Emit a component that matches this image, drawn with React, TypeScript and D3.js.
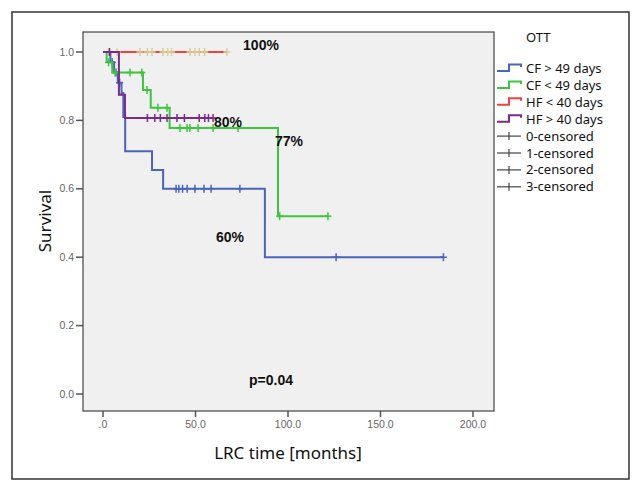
import React from "react";
import * as d3 from "d3";

// ---- data ----
const xTicks = [0, 50, 100, 150, 200];
const xTickLabels = [".0", "50.0", "100.0", "150.0", "200.0"];
const yTicks = [0, 0.2, 0.4, 0.6, 0.8, 1.0];
const yTickLabels = ["0.0", "0.2", "0.4", "0.6", "0.8", "1.0"];

// CF > 49 days (blue)
const blueTimes = [0, 4, 6, 8, 10, 11, 12, 26.5, 32.5, 87.5];
const blueSurv = [1.0, 0.97, 0.94, 0.91, 0.88, 0.81, 0.71, 0.655, 0.6, 0.4];
const blueEnd = 184;
const blueCensor = [5, 7, 9, 39.5, 41, 43, 45.5, 49.7, 54.6, 58.4, 74, 126, 184];

// CF < 49 days (green)
const greenTimes = [0, 2, 5, 21.6, 25.8, 36, 94.6];
const greenSurv = [1.0, 0.97, 0.94, 0.889, 0.837, 0.778, 0.52];
const greenEnd = 121.6;
const greenCensor = [3, 6.5, 14.6, 21, 23.8, 29.7, 34.6, 41.6, 45.4, 47, 51.4, 59.5, 73, 95.5, 121.6];

// HF < 40 days (red)
const redTimes = [0];
const redSurv = [1.0];
const redEnd = 67;
const redCensor = [3, 7.6, 20, 24, 26.5, 32.4, 35, 37, 47, 49.7, 52, 55, 67];

// HF > 40 days (purple)
const purpleTimes = [0, 8.6, 11.9];
const purpleSurv = [1.0, 0.875, 0.807];
const purpleEnd = 59.5;
const purpleCensor = [3.5, 24, 28, 31, 34.6, 40, 44, 52, 55, 57, 59.5];

const legendTitle = "OTT";
const legendLabels = ["CF > 49 days", "CF < 49 days", "HF < 40 days", "HF > 40 days"];
const censorLabels = ["0-censored", "1-censored", "2-censored", "3-censored"];

const annotations = [
  { text: "100%", t: 85.4, s: 1.02 },
  { text: "80%", t: 67.6, s: 0.795 },
  { text: "77%", t: 100.5, s: 0.74 },
  { text: "60%", t: 68.6, s: 0.459 },
  { text: "p=0.04", t: 90.8, s: 0.041 },
];

const series = [
  { times: blueTimes, surv: blueSurv, end: blueEnd, censor: blueCensor, color: "#4a63bd", censorColor: "#4a63bd" },
  { times: greenTimes, surv: greenSurv, end: greenEnd, censor: greenCensor, color: "#3cc63c", censorColor: "#3cc63c" },
  { times: redTimes, surv: redSurv, end: redEnd, censor: redCensor, color: "#f2403f", censorColor: "#d8cf98" },
  { times: purpleTimes, surv: purpleSurv, end: purpleEnd, censor: purpleCensor, color: "#7b2b8c", censorColor: "#7b2b8c" },
];
const legendColors = ["#4a63bd", "#3cc63c", "#f2403f", "#7b2b8c"];

export default function App() {
  const W = 642, H = 493;
  const x = d3.scaleLinear().domain([0, 200]).range([103, 473]);
  const y = d3.scaleLinear().domain([0, 1]).range([394, 52]);
  const plotL = 83, plotR = 494, plotT = 32, plotB = 411;

  const survAt = (times: number[], surv: number[], t: number) => {
    let s = surv[0];
    for (let i = 0; i < times.length; i++) if (times[i] <= t) s = surv[i];
    return s;
  };

  const lineGen = d3.line<[number, number]>().x(d => x(d[0])).y(d => y(d[1])).curve(d3.curveStepAfter);

  return (
    <svg width={W} height={H} style={{ position: "absolute", left: 0, top: 0, background: "#fff" }}>
      <rect x={12} y={12} width={617} height={467} fill="#fff" stroke="#333" strokeWidth={1.5} />
      <rect x={plotL} y={plotT} width={plotR - plotL} height={plotB - plotT} fill="#f0f0f0" stroke="#444" strokeWidth={1.2} />
      {/* y axis */}
      {yTicks.map((v, i) => (
        <g key={"y" + i}>
          <line x1={76} x2={plotL} y1={y(v)} y2={y(v)} stroke="#555" strokeWidth={1.5} />
          <text x={74} y={y(v)} dy="0.35em" textAnchor="end" fontFamily="Liberation Sans, Arial" fontSize={10.5} fill="#666">{yTickLabels[i]}</text>
        </g>
      ))}
      {xTicks.map((v, i) => (
        <g key={"x" + i}>
          <line x1={x(v)} x2={x(v)} y1={plotB} y2={plotB + 6} stroke="#555" strokeWidth={1.5} />
          <text x={x(v)} y={424} dy="0.35em" textAnchor="middle" fontFamily="Liberation Sans, Arial" fontSize={10.5} fill="#666">{xTickLabels[i]}</text>
        </g>
      ))}
      <text x={288} y={453} dy="0.35em" textAnchor="middle" fontFamily="Noto Sans" fontSize={17} fill="#111">LRC time [months]</text>
      <text transform="translate(45,221) rotate(-90)" dy="0.35em" textAnchor="middle" fontFamily="Noto Sans" fontSize={17} fill="#111">Survival</text>

      {/* curves */}
      {series.map((s, i) => {
        const pts: [number, number][] = s.times.map((t, j) => [t, s.surv[j]] as [number, number]);
        pts.push([s.end, s.surv[s.surv.length - 1]]);
        return (
          <g key={"s" + i}>
            <path d={lineGen(pts) || ""} fill="none" stroke={s.color} strokeWidth={2} />
            {s.censor.map((c, k) => {
              const cx = x(c), cy = y(survAt(s.times, s.surv, c));
              return (
                <g key={k} stroke={s.censorColor} strokeWidth={1.5}>
                  <line x1={cx} x2={cx} y1={cy - 4} y2={cy + 4} />
                  <line x1={cx - 3.5} x2={cx + 3.5} y1={cy} y2={cy} />
                </g>
              );
            })}
          </g>
        );
      })}

      {annotations.map((a, i) => (
        <text key={"a" + i} x={x(a.t)} y={y(a.s)} dy="0.35em" textAnchor="middle" fontFamily="Liberation Sans, Arial" fontWeight="bold" fontSize={14} fill="#111">{a.text}</text>
      ))}

      {/* legend */}
      <text x={526} y={37.5} dy="0.35em" fontFamily="Noto Sans" fontSize={13} fill="#111">{legendTitle}</text>
      {legendLabels.map((l, i) => {
        const cy = 68.5 + i * 16.9;
        return (
          <g key={"l" + i}>
            <path d={`M497,${cy + 2.5}H509V${cy - 4}H521V${cy - 1.5}`} fill="none" stroke={legendColors[i]} strokeWidth={2} />
            <text x={526} y={cy} dy="0.35em" fontFamily="Noto Sans" fontSize={13} fill="#111">{l}</text>
          </g>
        );
      })}
      {censorLabels.map((l, i) => {
        const cy = 68.5 + (i + 4) * 16.9;
        return (
          <g key={"c" + i}>
            <line x1={497} x2={521} y1={cy} y2={cy} stroke="#444" strokeWidth={1.2} />
            <line x1={509} x2={509} y1={cy - 4} y2={cy + 4} stroke="#444" strokeWidth={1.2} />
            <text x={526} y={cy} dy="0.35em" fontFamily="Noto Sans" fontSize={13} fill="#111">{l}</text>
          </g>
        );
      })}
    </svg>
  );
}
